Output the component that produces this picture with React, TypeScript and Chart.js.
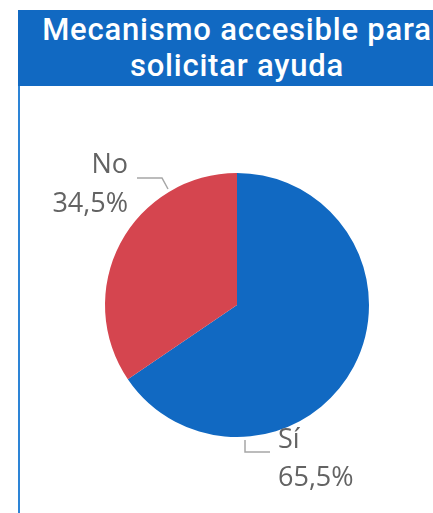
import React, { useEffect, useRef } from "react";
import { Chart, registerables } from "chart.js";

Chart.register(...registerables);

const TITLE_LINES = ["Mecanismo accesible para", "solicitar ayuda"];
const CATEGORIES = ["Sí", "No"];
const VALUES = [65.5, 34.5];
const VALUE_LABELS = ["65,5%", "34,5%"];
const COLORS = ["#1169c2", "#d5454f"];

// leader/label layout relative to pie centre (style only)
const LABEL_LAYOUT = [
  { line: [[8, 135], [8, 147], [33, 147]], textX: 41, align: "left", base: [143, 181] },
  { line: [[-100, -127], [-75, -127], [-69, -116]], textX: -109, align: "right", base: [-132, -93] },
];

const labelPlugin = {
  id: "pieLabels",
  afterDatasetsDraw(chart: any) {
    const ctx = chart.ctx;
    const meta = chart.getDatasetMeta(0);
    meta.data.forEach((arc: any, i: number) => {
      const cx = arc.x;
      const cy = arc.y;
      const L = LABEL_LAYOUT[i];
      ctx.save();
      ctx.strokeStyle = "#a6a6a6";
      ctx.lineWidth = 1.5;
      ctx.beginPath();
      L.line.forEach((p, k) => {
        if (k === 0) ctx.moveTo(cx + p[0], cy + p[1]);
        else ctx.lineTo(cx + p[0], cy + p[1]);
      });
      ctx.stroke();
      ctx.fillStyle = "#636363";
      ctx.font = "27px 'Open Sans', sans-serif";
      ctx.textAlign = L.align;
      ctx.textBaseline = "alphabetic";
      ctx.fillText(CATEGORIES[i], cx + L.textX, cy + L.base[0]);
      ctx.fillText(VALUE_LABELS[i], cx + L.textX, cy + L.base[1]);
      ctx.restore();
    });
  },
};

export default function App() {
  const ref = useRef<HTMLCanvasElement>(null);
  useEffect(() => {
    const chart = new Chart(ref.current!, {
      type: "pie",
      data: {
        labels: CATEGORIES,
        datasets: [
          {
            data: VALUES,
            backgroundColor: COLORS,
            borderWidth: 0,
          },
        ],
      },
      options: {
        animation: false,
        responsive: false,
        layout: { padding: { left: 105, right: 64, top: 173, bottom: 76 } },
        plugins: {
          legend: { display: false },
          tooltip: { enabled: false },
        },
      },
      plugins: [labelPlugin],
    });
    return () => chart.destroy();
  }, []);

  return (
    <div
      style={{
        position: "fixed",
        left: 0,
        top: 0,
        width: 433,
        height: 513,
        overflow: "hidden",
        background: "#ffffff",
      }}
    >
      <canvas ref={ref} width={433} height={513} style={{ position: "absolute", left: 0, top: 0 }} />
      <div
        style={{
          position: "absolute",
          left: 18,
          top: 86,
          width: 0,
          height: 427,
          borderLeft: "2px solid #2d84d6",
        }}
      />
      <div
        style={{
          position: "absolute",
          left: 18,
          top: 10,
          width: 438,
          height: 76,
          background: "#1169c2",
          color: "#ffffff",
          fontFamily: "Roboto, sans-serif",
          fontWeight: 500,
          fontSize: 31,
          letterSpacing: "0.8px",
          lineHeight: "36px",
          textAlign: "center",
          paddingTop: 2,
          boxSizing: "border-box",
          whiteSpace: "nowrap",
        }}
      >
        {TITLE_LINES.map((t) => (
          <div key={t}>{t}</div>
        ))}
      </div>
    </div>
  );
}
